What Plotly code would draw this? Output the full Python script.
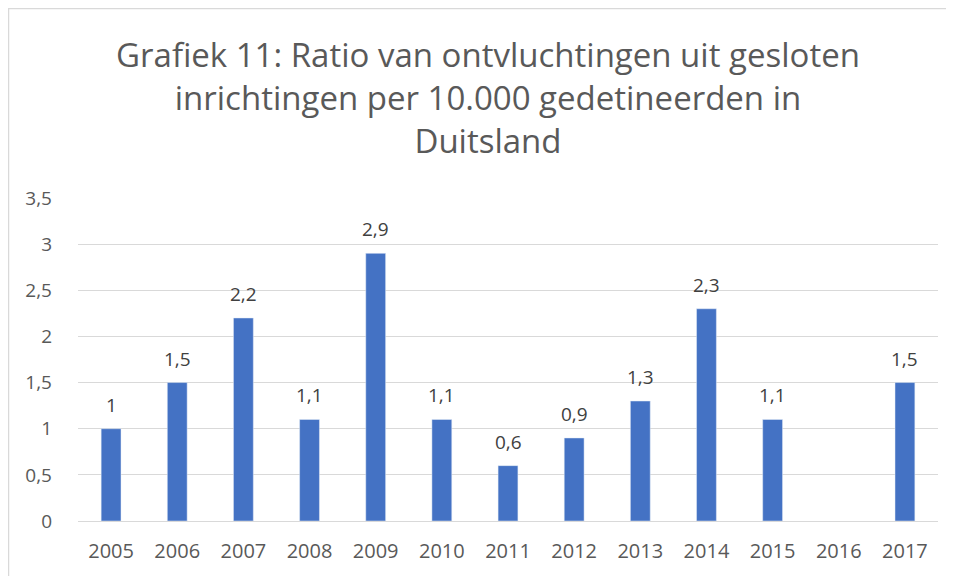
import plotly.graph_objects as go

years = ["2005", "2006", "2007", "2008", "2009", "2010", "2011", "2012", "2013", "2014", "2015", "2016", "2017"]
values = [1, 1.5, 2.2, 1.1, 2.9, 1.1, 0.6, 0.9, 1.3, 2.3, 1.1, None, 1.5]
labels = ["1", "1,5", "2,2", "1,1", "2,9", "1,1", "0,6", "0,9", "1,3", "2,3", "1,1", "", "1,5"]
yticks = [0, 0.5, 1, 1.5, 2, 2.5, 3, 3.5]
yticklabels = ["0", "0,5", "1", "1,5", "2", "2,5", "3", "3,5"]

FONT = "Open Sans, Liberation Sans, sans-serif"
W, H = 954, 576
ML, MR, MT, MB = 70, 24, 190, 63
PW, PH = W - ML - MR, H - MT - MB

fig = go.Figure()
fig.add_trace(go.Bar(
    x=years, y=values, marker_color="#4472C4", width=0.3,
    hoverinfo="x+y",
))

for i, (v, lab) in enumerate(zip(values, labels)):
    if v is None:
        continue
    fig.add_annotation(x=i, y=v, xref="x", yref="y", text=lab, showarrow=False,
                       yanchor="bottom", yshift=9,
                       font=dict(family=FONT, size=19, color="#404040"))

fig.update_layout(
    width=W, height=H,
    paper_bgcolor="white", plot_bgcolor="white",
    margin=dict(l=ML, r=MR, t=MT, b=MB),
    title=dict(
        text="Grafiek 11: Ratio van ontvluchtingen uit gesloten<br>inrichtingen per 10.000 gedetineerden in<br>Duitsland",
        x=480 / W, xanchor="center", xref="container", yref="container", y=1 - 59 / 576, yanchor="top",
        font=dict(family=FONT, size=33, color="#595959"),
    ),
    xaxis=dict(
        type="category", range=[-0.5, len(years) - 0.5], autorange=False,
        tickfont=dict(family=FONT, size=20, color="#595959"),
        showgrid=False, showline=False, ticks="", ticklabelstandoff=16,
    ),
    yaxis=dict(
        range=[0, 3.5], autorange=False, tickvals=yticks, ticktext=yticklabels,
        tickfont=dict(family=FONT, size=19, color="#595959"),
        showgrid=True, gridcolor="#d9d9d9", gridwidth=1,
        zeroline=True, zerolinecolor="#d9d9d9", zerolinewidth=1,
        ticks="", ticklen=0, ticklabelstandoff=25,
    ),
    showlegend=False,
    shapes=[dict(type="rect", xref="paper", yref="paper",
                 x0=(0.5 - ML) / PW, x1=1.2, y0=-0.5, y1=(H - MB - 0.5) / PH,
                 line=dict(color="#d9d9d9", width=1.5))],
)

fig.write_html("out.html")
